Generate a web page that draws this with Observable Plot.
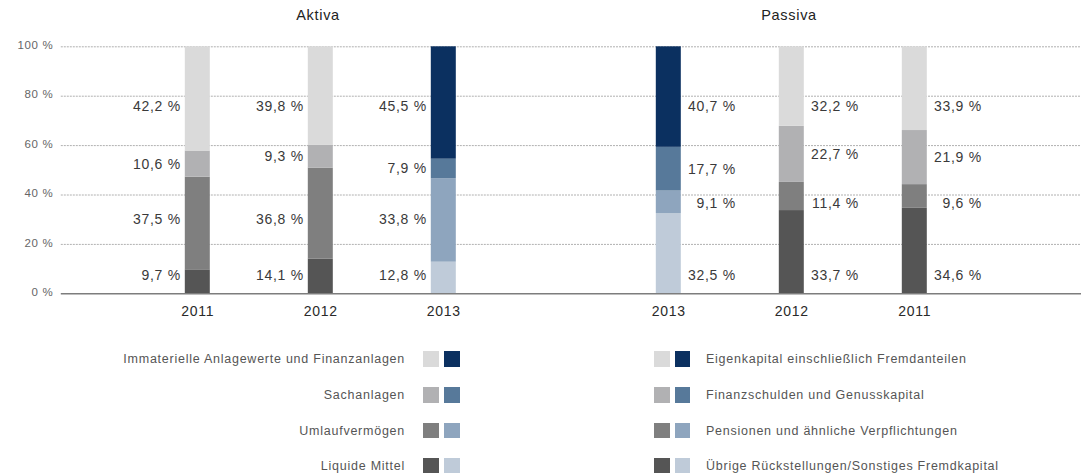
<!DOCTYPE html>
<html>
<head>
<meta charset="utf-8">
<script src="https://cdn.jsdelivr.net/npm/d3@7"></script>
<script src="https://cdn.jsdelivr.net/npm/@observablehq/plot@0.6"></script>
<style>
  html, body { margin: 0; padding: 0; background: #fff; }
  #wrap { position: relative; width: 1083px; height: 475px; font-family: "Liberation Sans", Arial, sans-serif; }
  #wrap svg text { letter-spacing: 0.7px; }
  .sw { position: absolute; width: 15.5px; height: 15.5px; }
  .lg-text { position: absolute; font-size: 12.5px; letter-spacing: 0.75px; color: #555; line-height: 16px; white-space: nowrap; }
</style>
</head>
<body>
<div id="wrap"></div>
<script>
// ---------- data ----------
const sides = ["Aktiva", "Passiva"];
const aktivaYears = ["2011", "2012", "2013"];
const passivaYears = ["2013", "2012", "2011"];
const highlightYear = "2013";

// categories listed bottom -> top of each stack
const aktivaCategories = ["Liquide Mittel", "Umlaufvermögen", "Sachanlagen", "Immaterielle Anlagewerte und Finanzanlagen"];
const passivaCategories = ["Übrige Rückstellungen/Sonstiges Fremdkapital", "Pensionen und ähnliche Verpflichtungen", "Finanzschulden und Genusskapital", "Eigenkapital einschließlich Fremdanteilen"];

const aktiva2011 = [9.7, 37.5, 10.6, 42.2];
const aktiva2012 = [14.1, 36.8, 9.3, 39.8];
const aktiva2013 = [12.8, 33.8, 7.9, 45.5];
const passiva2013 = [32.5, 9.1, 17.7, 40.7];
const passiva2012 = [33.7, 11.4, 22.7, 32.2];
const passiva2011 = [34.6, 9.6, 21.9, 33.9];

const yTicks = [0, 20, 40, 60, 80, 100];

const grayColors = ["#555555", "#7f7f7f", "#b1b1b3", "#dadada"];
const blueColors = ["#bfcbd9", "#8ea5be", "#57799a", "#0b3060"];

// ---------- layout constants ----------
const labelLevel = { Aktiva: [7.3, 29.9, null, 75.7], Passiva: [7.3, 36.4, null, 75.7] };

// ---------- build records ----------
const values = {
  Aktiva: { "2011": aktiva2011, "2012": aktiva2012, "2013": aktiva2013 },
  Passiva: { "2011": passiva2011, "2012": passiva2012, "2013": passiva2013 }
};
const records = [];
const yearRecs = [];
for (const side of sides) {
  const years = side === "Aktiva" ? aktivaYears : passivaYears;
  years.forEach((year, si) => {
    const slot = String(si);
    yearRecs.push({ side, slot, year });
    let acc = 0;
    values[side][year].forEach((v, layer) => {
      const y0 = acc, y1 = acc + v;
      const lvl = labelLevel[side][layer];
      records.push({
        side, slot, year, layer, value: v, y0, y1,
        labelY: lvl == null ? (y0 + y1) / 2 : lvl,
        fill: (year === highlightYear ? blueColors : grayColors)[layer]
      });
      acc = y1;
    });
  });
}
const fmt = v => v.toFixed(1).replace(".", ",") + " %";
const gridA = yTicks.filter(t => t > 0).map(t => ({ side: "Aktiva", t }));
const gridP = yTicks.filter(t => t > 0).map(t => ({ side: "Passiva", t }));

const chart = Plot.plot({
  width: 1083,
  height: 330,
  marginTop: 46.3,
  marginBottom: 36.7,
  marginLeft: 84.2,
  marginRight: 55.2,
  style: { fontFamily: '"Liberation Sans", Arial, sans-serif', background: "white", overflow: "visible" },
  fx: { domain: sides, paddingInner: 0, paddingOuter: 0, axis: null, label: null },
  x: { domain: ["0", "1", "2"], paddingInner: 0.798, paddingOuter: 0.806, axis: null },
  y: { domain: [0, 100], axis: null },
  color: { type: "identity" },
  marks: [
    Plot.ruleY(gridA, { fx: "side", y: "t", stroke: "#b0b0b0", strokeWidth: 1, strokeDasharray: "2,1", insetLeft: -24.2 }),
    Plot.ruleY(gridP, { fx: "side", y: "t", stroke: "#b0b0b0", strokeWidth: 1, strokeDasharray: "2,1", insetRight: -54 }),
    Plot.barY(records, { fx: "side", x: "slot", y1: "y0", y2: "y1", fill: "fill" }),
    Plot.ruleY([{ side: "Aktiva", t: 0 }], { fx: "side", y: "t", stroke: "#7d7d7d", strokeWidth: 1.5, insetLeft: -24.2 }),
    Plot.ruleY([{ side: "Passiva", t: 0 }], { fx: "side", y: "t", stroke: "#7d7d7d", strokeWidth: 1.5, insetRight: -54 }),
    Plot.text(yTicks, { fx: () => "Aktiva", y: d => d, text: d => `${d} %`, frameAnchor: "left", textAnchor: "end", dx: -32, dy: -1.5, fontSize: 11.5, fill: "#666" }),
    Plot.text(records.filter(d => d.side === "Aktiva"), { fx: "side", x: "slot", y: "labelY", text: d => fmt(d.value), textAnchor: "end", dx: -17, fontSize: 14, fill: "#3a3a3a" }),
    Plot.text(records.filter(d => d.side === "Passiva"), { fx: "side", x: "slot", y: "labelY", text: d => fmt(d.value), textAnchor: "end", dx: 67, fontSize: 14, fill: "#3a3a3a" }),
    Plot.text(yearRecs, { fx: "side", x: "slot", text: "year", frameAnchor: "bottom", lineAnchor: "middle", dy: 18, fontSize: 14, fill: "#2a2a2a" }),
    Plot.text(sides, { fx: d => d, text: d => d, frameAnchor: "top", lineAnchor: "middle", dy: -31.5, dx: -3, fontSize: 14.5, fill: "#222" })
  ]
});

const wrap = document.getElementById("wrap");
wrap.appendChild(chart);

// ---------- legend ----------
const rowCenters = [359, 395, 430.5, 465.5];
function addSwatch(x, yc, color) {
  const s = document.createElement("div");
  s.className = "sw";
  s.style.left = x + "px";
  s.style.top = (yc - 7.75) + "px";
  s.style.background = color;
  wrap.appendChild(s);
}
function addText(txt, yc, opts) {
  const t = document.createElement("div");
  t.className = "lg-text";
  t.textContent = txt;
  t.style.top = (yc - 8) + "px";
  Object.assign(t.style, opts);
  wrap.appendChild(t);
}
for (let r = 0; r < 4; r++) {
  const layer = 3 - r;
  const yc = rowCenters[r];
  addText(aktivaCategories[layer], yc, { left: "0px", width: "405px", textAlign: "right" });
  addSwatch(423, yc, grayColors[layer]);
  addSwatch(444, yc, blueColors[layer]);
  addSwatch(654, yc, grayColors[layer]);
  addSwatch(674.5, yc, blueColors[layer]);
  addText(passivaCategories[layer], yc, { left: "706px" });
}
</script>
</body>
</html>
